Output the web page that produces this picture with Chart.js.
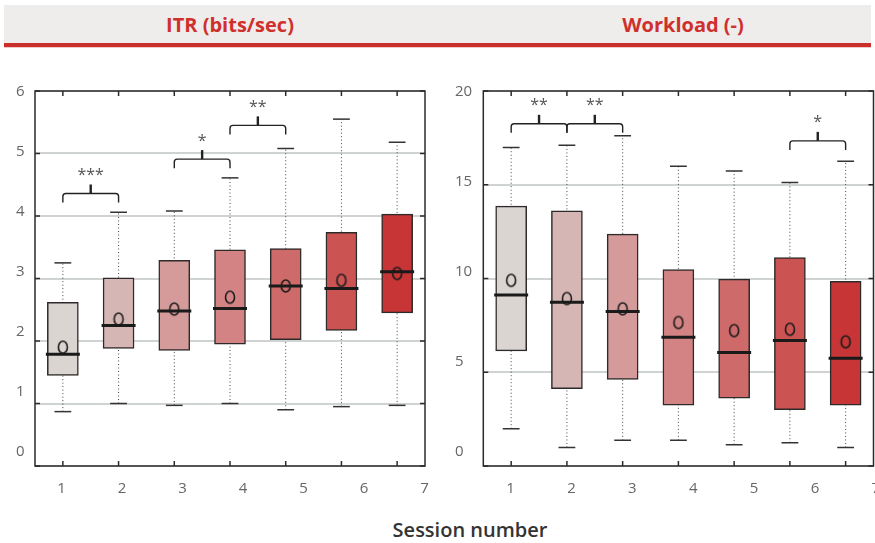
<!DOCTYPE html>
<html>
<head>
<meta charset="utf-8">
<script src="https://cdn.jsdelivr.net/npm/chart.js@4.4.1/dist/chart.umd.min.js"></script>
<style>
  body { margin: 0; background: #fff; font-family: 'Open Sans', sans-serif; }
  #page { position: relative; width: 875px; height: 543px; overflow: hidden; }
  .band { position: absolute; left: 4px; top: 5px; width: 867px; height: 38px; background: #eeedeb; }
  .bandLine { position: absolute; left: 4px; top: 43px; width: 867px; height: 4px; background: #c9302c; border-bottom: 1px solid #f2c9c8; }
  .title { position: absolute; top: 5px; width: 400px; height: 38px; line-height: 40px; text-align: center;
           color: #d0302d; font-size: 20px; font-weight: 700; }
  .xtitle { position: absolute; left: 270px; top: 517px; width: 400px; line-height: 26px; text-align: center;
            color: #333; font-size: 20px; font-weight: 600; }
  canvas { position: absolute; top: 60px; }
</style>
</head>
<body>
<div id="page">
  <div class="band"></div>
  <div class="bandLine"></div>
  <div class="title" style="left:30px">ITR (bits/sec)</div>
  <div class="title" style="left:483px">Workload (-)</div>
  <canvas id="itrChart" width="440" height="450" style="left:0;width:440px;height:450px"></canvas>
  <canvas id="wlChart" width="435" height="450" style="left:440px;width:435px;height:450px"></canvas>
  <div class="xtitle">Session number</div>
</div>
<script>
  const sessions = [1, 2, 3, 4, 5, 6, 7];

  // ITR (bits/sec)
  const itrTicks = [0, 1, 2, 3, 4, 5, 6];
  const itrMin = [0.87, 1.0, 0.97, 1.0, 0.9, 0.95, 0.97];
  const itrQ1 = [1.45, 1.88, 1.85, 1.95, 2.02, 2.17, 2.45];
  const itrMedian = [1.79, 2.25, 2.48, 2.52, 2.88, 2.84, 3.11];
  const itrQ3 = [2.62, 3.01, 3.29, 3.46, 3.48, 3.74, 4.03];
  const itrMax = [3.25, 4.06, 4.08, 4.61, 5.08, 5.55, 5.18];
  const itrMean = [1.9, 2.35, 2.51, 2.7, 2.88, 2.97, 3.08];
  const itrSigFrom = [1, 3, 4];
  const itrSigTo = [2, 4, 5];
  const itrSigY = [4.36, 4.91, 5.45];
  const itrSigText = ['***', '*', '**'];

  // Workload (-)
  const wlTicks = [0, 5, 10, 15, 20];
  const wlMin = [1.99, 0.99, 1.37, 1.37, 1.14, 1.24, 0.99];
  const wlQ1 = [6.14, 4.12, 4.62, 3.25, 3.62, 3.0, 3.25];
  const wlMedian = [9.12, 8.73, 8.24, 6.87, 6.05, 6.69, 5.75];
  const wlQ3 = [13.86, 13.61, 12.37, 10.47, 9.97, 11.11, 9.85];
  const wlMax = [16.99, 17.11, 17.62, 15.99, 15.74, 15.12, 16.26];
  const wlMean = [9.9, 8.93, 8.38, 7.65, 7.22, 7.29, 6.62];
  const wlSigFrom = [1, 2, 6];
  const wlSigTo = [2, 3, 7];
  const wlSigY = [18.25, 18.25, 17.34];
  const wlSigText = ['**', '**', '*'];

  const boxColors = ['#dad5d0', '#d6b6b4', '#d59b9a', '#d38384', '#ce6a69', '#cb5352', '#c73536'];

  // mean marker: an upright open ellipse
  const meanMark = document.createElement('canvas');
  meanMark.width = 14;
  meanMark.height = 16;
  const mctx = meanMark.getContext('2d');
  mctx.lineWidth = 1.6;
  mctx.strokeStyle = '#1c1c1c';
  mctx.beginPath();
  mctx.ellipse(7, 8, 4.5, 6, 0, 0, 2 * Math.PI);
  mctx.stroke();

  const panelDecor = {
    id: 'panelDecor',
    afterDraw(chart, args, opts) {
      const { ctx, chartArea: a } = chart;
      const x = chart.scales.x, y = chart.scales.y;
      const line = (x1, y1, x2, y2) => { ctx.beginPath(); ctx.moveTo(x1, y1); ctx.lineTo(x2, y2); ctx.stroke(); };
      ctx.save();
      ctx.strokeStyle = '#2b2b2b';
      ctx.lineWidth = 1.5;
      ctx.strokeRect(a.left, a.top, a.right - a.left, a.bottom - a.top);
      x.ticks.forEach((t) => {
        const px = x.getPixelForValue(t.value);
        line(px, a.bottom, px, a.bottom - 5);
        line(px, a.top, px, a.top + 5);
      });
      y.ticks.forEach((t) => {
        const py = y.getPixelForValue(t.value);
        line(a.left, py, a.left + 5, py);
        line(a.right, py, a.right - 5, py);
      });

      // significance brackets
      ctx.strokeStyle = '#222';
      ctx.fillStyle = '#555';
      ctx.font = '16px "Open Sans"';
      ctx.textAlign = 'center';
      ctx.textBaseline = 'middle';
      opts.from.forEach((f, i) => {
        const x1 = x.getPixelForValue(f), x2 = x.getPixelForValue(opts.to[i]);
        const xc = (x1 + x2) / 2, py = y.getPixelForValue(opts.y[i]);
        ctx.lineWidth = 1.4;
        ctx.beginPath();
        ctx.moveTo(x1, py + 9);
        ctx.lineTo(x1, py + 3);
        ctx.quadraticCurveTo(x1, py, x1 + 3, py);
        ctx.lineTo(x2 - 3, py);
        ctx.quadraticCurveTo(x2, py, x2, py + 3);
        ctx.lineTo(x2, py + 9);
        ctx.stroke();
        ctx.lineWidth = 2.4;
        line(xc, py, xc, py - 9);
        ctx.fillText(opts.text[i], xc, py - 18);
      });
      ctx.restore();
    },
  };

  const makeChart = (id, d) => {
    const whiskers = [];
    sessions.forEach((s, i) => {
      whiskers.push({ x: s, y: d.min[i] }, { x: s, y: d.max[i] }, { x: s, y: null });
    });
    const caps = [];
    sessions.forEach((s, i) => {
      caps.push({ x: s, y: d.min[i] }, { x: s, y: d.max[i] });
    });
    const tickFont = { family: 'Open Sans', size: 15 };

    return new Chart(document.getElementById(id), {
      type: 'bar',
      data: {
        datasets: [
          {
            type: 'scatter',
            data: sessions.map((s, i) => ({ x: s, y: d.mean[i] })),
            pointStyle: meanMark,
            pointRadius: 6,
            order: 0,
            xAxisID: 'x',
            yAxisID: 'y',
          },
          {
            type: 'scatter',
            data: sessions.map((s, i) => ({ x: s, y: d.median[i] })),
            pointStyle: 'line',
            pointRadius: 17,
            pointBorderWidth: 3,
            pointBorderColor: '#1a1a1a',
            order: 1,
            xAxisID: 'x',
            yAxisID: 'y',
          },
          {
            type: 'scatter',
            data: caps,
            pointStyle: 'line',
            pointRadius: 8.4,
            pointBorderWidth: 1.5,
            pointBorderColor: '#333',
            order: 2,
            xAxisID: 'x',
            yAxisID: 'y',
          },
          {
            type: 'bar',
            data: sessions.map((s, i) => ({ x: s, y: [d.q1[i], d.q3[i]] })),
            backgroundColor: boxColors,
            borderColor: '#2e2a2a',
            borderWidth: 1.5,
            borderSkipped: false,
            barThickness: 31,
            order: 3,
            xAxisID: 'x',
            yAxisID: 'y',
          },
          {
            type: 'line',
            data: whiskers,
            borderColor: '#444',
            borderWidth: 1,
            borderDash: [1, 2.5],
            pointRadius: 0,
            spanGaps: false,
            order: 4,
            xAxisID: 'x',
            yAxisID: 'y',
          },
        ],
      },
      options: {
        responsive: false,
        animation: false,
        layout: { padding: d.padding, autoPadding: false },
        plugins: {
          legend: { display: false },
          tooltip: { enabled: false },
          panelDecor: { from: d.sigFrom, to: d.sigTo, y: d.sigY, text: d.sigText },
        },
        scales: {
          x: {
            type: 'linear',
            offset: false,
            min: 0.5,
            max: 7.5,
            grid: { display: false },
            border: { display: false },
            ticks: { display: false },
            afterBuildTicks: (axis) => { axis.ticks = sessions.map((v) => ({ value: v })); },
            afterFit: (axis) => { axis.height = 0; axis.paddingLeft = 0; axis.paddingRight = 0; },
          },
          y: {
            type: 'linear',
            min: d.ticks[0],
            max: d.ticks[d.ticks.length - 1],
            grid: { color: '#cfd3d2', lineWidth: 2, drawTicks: false },
            border: { display: false },
            ticks: { display: false },
            afterBuildTicks: (axis) => { axis.ticks = d.ticks.map((v) => ({ value: v })); },
            afterFit: (axis) => { axis.width = 0; axis.paddingTop = 0; axis.paddingBottom = 0; },
          },
          // label axes: the tick labels sit on a slightly different spacing than the tick marks
          xl: {
            type: 'linear',
            position: 'bottom',
            offset: false,
            min: d.xLabelRange[0],
            max: d.xLabelRange[1],
            grid: { display: false, drawTicks: false },
            border: { display: false },
            ticks: { font: tickFont, color: '#666', padding: 14, maxRotation: 0 },
            afterBuildTicks: (axis) => { axis.ticks = sessions.map((v) => ({ value: v })); },
            afterFit: (axis) => { axis.height = 44; axis.paddingLeft = 0; axis.paddingRight = 0; },
          },
          yl: {
            type: 'linear',
            position: 'left',
            min: d.yLabelRange[0],
            max: d.yLabelRange[1],
            grid: { display: false, drawTicks: false },
            border: { display: false },
            ticks: { font: tickFont, color: '#666', padding: 0, crossAlign: 'far' },
            afterBuildTicks: (axis) => { axis.ticks = d.ticks.map((v) => ({ value: v })); },
            afterFit: (axis) => { axis.width = d.labelWidth; axis.paddingTop = 0; axis.paddingBottom = 0; },
          },
        },
      },
      plugins: [panelDecor],
    });
  };

  makeChart('itrChart', {
    ticks: itrTicks, min: itrMin, q1: itrQ1, median: itrMedian, q3: itrQ3, max: itrMax, mean: itrMean,
    sigFrom: itrSigFrom, sigTo: itrSigTo, sigY: itrSigY, sigText: itrSigText,
    padding: { left: 16, top: 31, right: 15, bottom: 0 },
    labelWidth: 19,
    xLabelRange: [0.562, 7.008],
    yLabelRange: [-0.233, 6.017],
  });

  makeChart('wlChart', {
    ticks: wlTicks, min: wlMin, q1: wlQ1, median: wlMedian, q3: wlQ3, max: wlMax, mean: wlMean,
    sigFrom: wlSigFrom, sigTo: wlSigTo, sigY: wlSigY, sigText: wlSigText,
    padding: { left: 15, top: 31, right: 1.5, bottom: 0 },
    labelWidth: 28.3,
    xLabelRange: [0.551, 6.962],
    yLabelRange: [-0.79, 20.03],
  });
</script>
</body>
</html>
